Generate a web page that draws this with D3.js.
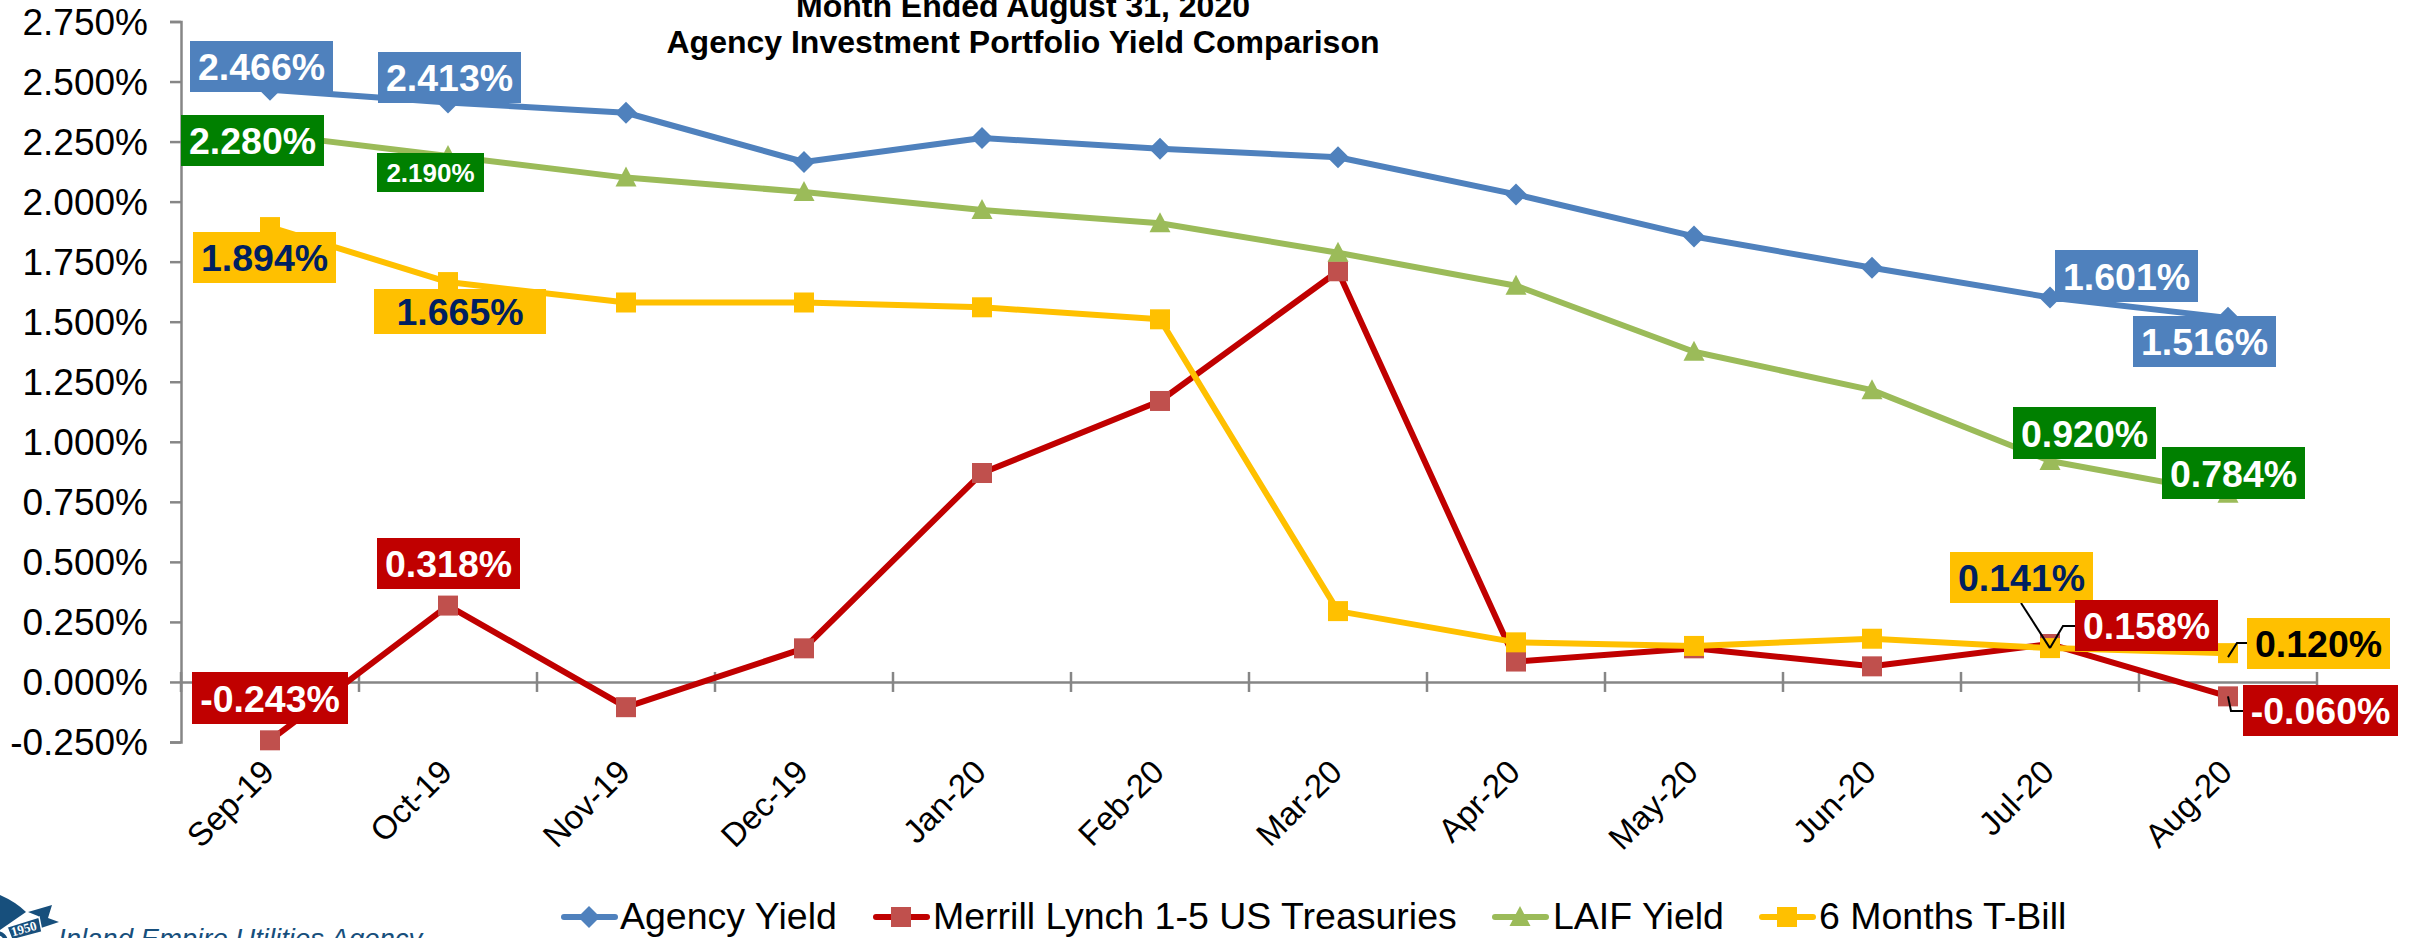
<!DOCTYPE html>
<html><head><meta charset="utf-8">
<style>html,body{margin:0;padding:0;background:#fff;overflow:hidden}svg{display:block}text{font-family:"Liberation Sans",Arial,sans-serif}</style>
<script src="https://cdn.jsdelivr.net/npm/d3@7/dist/d3.min.js"></script></head><body>
<script>
const months = ["Sep-19","Oct-19","Nov-19","Dec-19","Jan-20","Feb-20","Mar-20","Apr-20","May-20","Jun-20","Jul-20","Aug-20"];
const agencyYield = [2.466,2.413,2.37,2.165,2.265,2.22,2.185,2.03,1.855,1.725,1.601,1.516];
const merrillLynch = [-0.243,0.318,-0.105,0.14,0.87,1.17,1.71,0.085,0.14,0.065,0.158,-0.060];
const laifYield = [2.28,2.19,2.10,2.04,1.965,1.91,1.787,1.65,1.375,1.215,0.92,0.784];
const tBill = [1.894,1.665,1.58,1.58,1.56,1.51,0.295,0.165,0.15,0.18,0.141,0.12];
const yTicks = [-0.25,0,0.25,0.5,0.75,1,1.25,1.5,1.75,2,2.25,2.5,2.75];
const titleLines = ["Month Ended August 31, 2020","Agency Investment Portfolio Yield Comparison"];
const footerText = "Inland Empire Utilities Agency";
const logoYear = "1950";

const W=2412,H=938;
const pct=d=>d3.format(".3f")(d).replace("\u2212","-")+"%";
const x=d3.scaleBand().domain(months).range([181,2317]);
const y=d3.scaleLinear().domain([-0.25,2.75]).range([742,21.5]);
const svg=d3.select("body").append("svg").attr("width",W).attr("height",H);

const grey="#868686";
// title
svg.selectAll(".t").data(titleLines).enter().append("text").attr("x",1023).attr("y",(d,i)=>[17,53][i])
 .attr("text-anchor","middle").attr("font-size",32).attr("font-weight","bold").attr("fill","#000").text(d=>d);

// axes
const yAxis=svg.append("g").attr("transform","translate(181,0)").call(d3.axisLeft(y).tickValues(yTicks).tickFormat(pct).tickSize(11).tickPadding(22));
const xAxis=svg.append("g").attr("transform",`translate(0,${y(0)})`).call(d3.axisBottom(x).tickSize(0).tickFormat(""));
[yAxis,xAxis].forEach(g=>{g.select(".domain").attr("stroke",grey).attr("stroke-width",2.5);g.selectAll("line").attr("stroke",grey).attr("stroke-width",2.5);});
yAxis.selectAll("text").attr("font-size",37).attr("fill","#000").attr("font-family",'"Liberation Sans",Arial,sans-serif').attr("dy","0.35em");
svg.append("g").selectAll("line").data(months.map(m=>x(m)).concat([x.range()[1]])).enter().append("line")
 .attr("x1",d=>d).attr("x2",d=>d).attr("y1",y(0)-10).attr("y2",y(0)+10).attr("stroke",grey).attr("stroke-width",2.5);
// category labels
svg.append("g").selectAll("text").data(months).enter().append("text")
 .attr("text-anchor","end").attr("font-size",33).attr("fill","#000")
 .attr("transform",d=>`translate(${x(d)+x.bandwidth()/2+6},${y(-0.25)+32}) rotate(-45)`).text(d=>d);

const diamond=(g,cx,cy,c)=>g.append("path").attr("d",`M${cx},${cy-11}L${cx+11},${cy}L${cx},${cy+11}L${cx-11},${cy}Z`).attr("fill",c);
const square=(g,cx,cy,c)=>g.append("rect").attr("x",cx-10).attr("y",cy-10).attr("width",20).attr("height",20).attr("fill",c);
const triangle=(g,cx,cy,c)=>g.append("path").attr("d",`M${cx},${cy-11}L${cx+10.5},${cy+9}L${cx-10.5},${cy+9}Z`).attr("fill",c);

const series=[
 {name:"Agency Yield",vals:agencyYield,line:"#4F81BD",mark:"#4F81BD",shape:diamond,lx:561,tx:620},
 {name:"Merrill Lynch 1-5 US Treasuries",vals:merrillLynch,line:"#C00000",mark:"#C0504D",shape:square,lx:873,tx:933},
 {name:"LAIF Yield",vals:laifYield,line:"#9BBB59",mark:"#9BBB59",shape:triangle,lx:1492,tx:1553},
 {name:"6 Months T-Bill",vals:tBill,line:"#FFC000",mark:"#FFC000",shape:square,lx:1759,tx:1819}
];
const cx=m=>x(m)+x.bandwidth()/2;
const line=d3.line().x((d,i)=>cx(months[i])).y(d=>y(d));
series.forEach(s=>{
 const g=svg.append("g");
 g.append("path").attr("d",line(s.vals)).attr("fill","none").attr("stroke",s.line).attr("stroke-width",6).attr("stroke-linejoin","round");
 s.vals.forEach((v,i)=>s.shape(g,cx(months[i]),y(v),s.mark));
 const lg=svg.append("g");
 lg.append("line").attr("x1",s.lx+3).attr("x2",s.lx+54).attr("y1",917).attr("y2",917).attr("stroke",s.line).attr("stroke-width",6).attr("stroke-linecap","round");
 s.shape(lg,s.lx+28,917,s.mark);
 lg.append("text").attr("x",s.tx).attr("y",929).attr("font-size",37.5).attr("fill","#000").text(s.name);
});

// data labels: series, month index, box corner placement
const BLUE="#4F81BD",GREEN="#008000",RED="#C00000",GOLD="#FFC000";
const labels=[
 [agencyYield,0,190,41,143,51,BLUE,"#fff",37.5],[agencyYield,1,378,52,143,51,BLUE,"#fff",37.5],
 [agencyYield,10,2055,250,143,52,BLUE,"#fff",37.5],[agencyYield,11,2133,316,143,51,BLUE,"#fff",37.5],
 [laifYield,0,181,115,143,51,GREEN,"#fff",37.5],[laifYield,1,377,153,107,39,GREEN,"#fff",26],
 [laifYield,10,2013,407,143,52,GREEN,"#fff",37.5],[laifYield,11,2162,447,143,52,GREEN,"#fff",37.5],
 [tBill,0,193,232,143,51,GOLD,"#002060",37.5],[tBill,1,374,289,172,45,GOLD,"#002060",37.5],
 [tBill,10,1950,552,143,51,GOLD,"#002060",37.5],[tBill,11,2247,618,143,51,GOLD,"#000",37.5],
 [merrillLynch,0,192,672,156,52,RED,"#fff",37.5],[merrillLynch,1,377,538,143,51,RED,"#fff",37.5],
 [merrillLynch,10,2075,600,143,51,RED,"#fff",37.5],[merrillLynch,11,2243,685,155,51,RED,"#fff",37.5]
];
// leader lines
const px=i=>cx(months[i]);
const leaders=[
 [[2021,603],[px(10),y(tBill[10])]],
 [[2075,626],[2063,626],[px(10),y(merrillLynch[10])+4]],
 [[2247,643],[2237,643],[px(11),y(tBill[11])+4]],
 [[2243,711],[2231,711],[px(11),y(merrillLynch[11])]]
];
svg.append("g").selectAll("path").data(leaders).enter().append("path").attr("d",d=>d3.line()(d)).attr("fill","none").attr("stroke","#000").attr("stroke-width",2);
const lg=svg.append("g").selectAll("g").data(labels).enter().append("g");
lg.append("rect").attr("x",d=>d[2]).attr("y",d=>d[3]).attr("width",d=>d[4]).attr("height",d=>d[5]).attr("fill",d=>d[6]);
lg.append("text").attr("x",d=>d[2]+d[4]/2).attr("y",d=>d[3]+d[5]/2).attr("dy","0.36em").attr("text-anchor","middle")
 .attr("font-size",d=>d[8]).attr("font-weight","bold").attr("fill",d=>d[7]).text(d=>pct(d[0][d[1]]));

// logo and footer (cut by the bottom edge, as in the reference)
const NAVY="#174F7C";
const logo=svg.append("g");
logo.append("path").attr("d","M0,895Q16,902 26,912L13,921L0,930Z").attr("fill",NAVY);
logo.append("path").attr("d","M28,912L52,905L48,918L59,922L41,928L38,916Z").attr("fill",NAVY);
logo.append("path").attr("d","M7,927L39,917L42,932L12,940Z").attr("fill",NAVY).attr("stroke","#fff").attr("stroke-width",1.5);
logo.append("circle").attr("cx",-3).attr("cy",942).attr("r",9).attr("fill","none").attr("stroke",NAVY).attr("stroke-width",4);
logo.append("text").attr("transform","translate(25,933) rotate(-16)").attr("text-anchor","middle")
 .attr("font-size",13).attr("font-weight","bold").attr("fill","#fff").style("font-family",'"Liberation Serif",serif').text(logoYear);
svg.append("text").attr("x",58).attr("y",948).attr("font-size",27.5).attr("font-style","italic").attr("fill",NAVY).text(footerText);
</script></body></html>
